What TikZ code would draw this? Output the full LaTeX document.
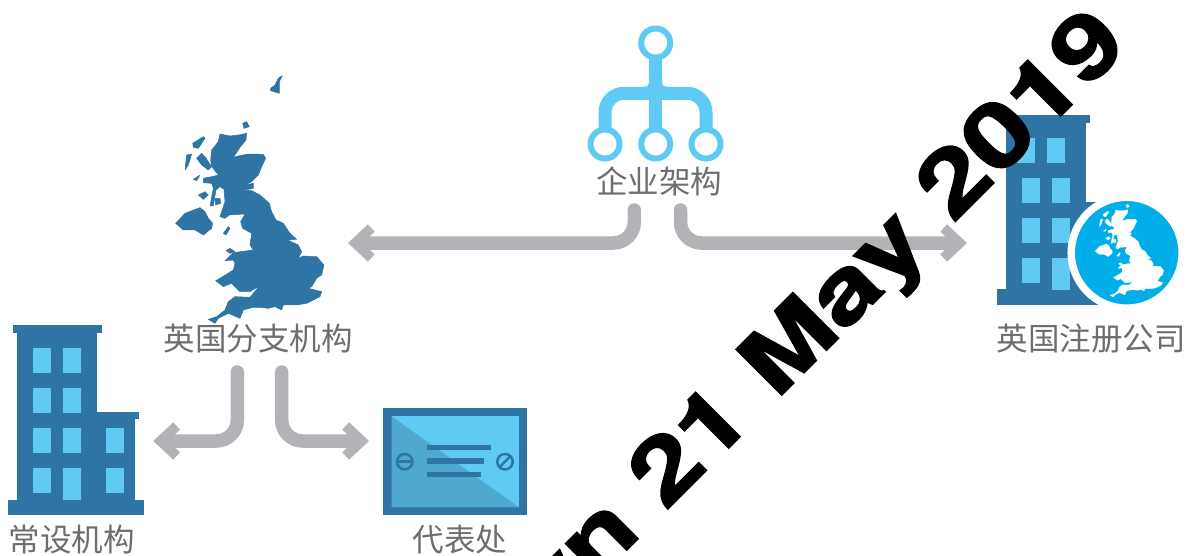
\documentclass[tikz,border=0pt]{standalone}
\usepackage{fontspec}
\newfontfamily\cjk{Noto Sans CJK SC}
\newfontfamily\stampfont[BoldFeatures={FakeBold=1.5}]{TeX Gyre Heros}
\usetikzlibrary{arrows, arrows.meta}
\definecolor{bldblue}{HTML}{2E75A6}
\definecolor{winblue}{HTML}{5FCBF5}
\definecolor{diagblue}{HTML}{4FA8CD}
\definecolor{discblue}{HTML}{00AEEA}
\definecolor{flowgray}{HTML}{B1B3B6}
\definecolor{labelgray}{HTML}{6D6E71}
\tikzset{
  caption/.style={inner sep=0pt, text=labelgray, font=\cjk\fontsize{31.5}{31.5}\selectfont},
  flow/.style={draw=flowgray, line width=13.5pt, line cap=round, rounded corners=21pt, -{Straight Barb[length=16pt,width=30pt,line width=10pt]}},
  orgdot/.style={circle, draw=winblue, fill=white, line width=6pt, inner sep=0pt, outer sep=0pt, minimum size=29pt},
  orgline/.style={draw=winblue, line width=13pt},
  screw/.style={circle, draw=bldblue, line width=2.5pt, inner sep=0pt, outer sep=0pt, minimum size=15.5pt},
}
\newcommand{\ukshape}[1]{
  \filldraw[#1, line join=round] (210,222) -- (240,228) -- (265,225) -- (290,220) -- (288,240) -- (270,262) -- (250,292) -- (265,288) -- (295,282) -- (340,283) -- (347,295) -- (335,320) -- (325,345) -- (305,365) -- (285,375) -- (310,370) -- (310,385) -- (285,390) -- (265,390) -- (305,392) -- (330,405) -- (358,430) -- (365,455) -- (378,480) -- (400,490) -- (420,520) -- (440,538) -- (412,540) -- (445,555) -- (455,575) -- (445,595) -- (460,588) -- (500,590) -- (522,615) -- (515,645) -- (500,655) -- (485,680) -- (475,685) -- (515,695) -- (510,710) -- (470,730) -- (440,735) -- (400,735) -- (395,750) -- (375,740) -- (355,745) -- (330,742) -- (310,742) -- (280,750) -- (270,775) -- (235,760) -- (205,775) -- (195,790) -- (175,778) -- (200,770) -- (225,750) -- (235,725) -- (255,710) -- (300,712) -- (328,678) -- (300,695) -- (270,695) -- (245,670) -- (220,680) -- (197,662) -- (210,655) -- (250,630) -- (255,610) -- (250,600) -- (225,602) -- (250,578) -- (295,572) -- (310,570) -- (300,555) -- (305,520) -- (278,505) -- (272,485) -- (285,462) -- (238,465) -- (225,475) -- (210,470) -- (225,425) -- (222,388) -- (210,380) -- (198,390) -- (190,438) -- (180,438) -- (190,385) -- (185,370) -- (160,368) -- (160,355) -- (185,350) -- (205,345) -- (185,320) -- (182,300) -- (185,270) -- (205,245) -- cycle;
  \filldraw[#1, line join=round] (77,490) -- (105,460) -- (150,443) -- (165,455) -- (175,475) -- (188,490) -- (185,505) -- (160,525) -- (135,510) -- (100,510) -- cycle;
  \filldraw[#1, line join=round] (220,520) -- (235,500) -- (240,505) -- (228,525) -- cycle;
  \filldraw[#1, line join=round] (228,572) -- (240,565) -- (255,575) -- (240,580) -- cycle;
  \filldraw[#1, line join=round] (128,250) -- (160,230) -- (165,235) -- (145,265) -- (130,262) -- cycle;
  \filldraw[#1, line join=round] (110,285) -- (125,282) -- (115,315) -- (105,330) -- cycle;
  \filldraw[#1, line join=round] (140,295) -- (155,280) -- (165,290) -- (185,320) -- (175,330) -- (155,315) -- cycle;
  \filldraw[#1, line join=round] (145,405) -- (165,395) -- (175,405) -- (160,418) -- cycle;
  \filldraw[#1, line join=round] (195,415) -- (210,415) -- (212,430) -- (197,435) -- cycle;
  \filldraw[#1, line join=round] (130,358) -- (150,345) -- (140,362) -- cycle;
  \filldraw[#1, line join=round] (278,190) -- (290,185) -- (298,200) -- (282,205) -- cycle;
}
\begin{document}
\begin{tikzpicture}[x=1pt, y=-1pt]
      \path[use as bounding box, clip] (0,0) rectangle (1187,555);

      \node[caption] (orglabel) at (659,181) {企业架构};
      \node[caption] (branchlabel) at (258,339) {英国分支机构};
      \node[caption] (estlabel) at (72,540) {常设机构};
      \node[caption] (officelabel) at (460,540) {代表处};
      \node[caption] (ltdlabel) at (1091,339) {英国注册公司};

      \node[orgdot] (orgtop) at (655.7,43) {};
      \node[orgdot] (orgleft) at (605,144) {};
      \node[orgdot] (orgmid) at (655.7,144) {};
      \node[orgdot] (orgright) at (706,144) {};
      \draw[orgline] (orgtop) -- (orgmid);
      \draw[orgline, rounded corners=19pt] (orgleft) -- (605,93.3) -- (706,93.3) -- (orgright);
      \fill[winblue] (649,78) .. controls (649,86.8) .. (640,86.8) -- (671,86.8) .. controls (662,86.8) .. (662,78) -- cycle;

      \begin{scope}[shift={(150,60)}, x=.3333pt, y=-.3333pt, line width=.5pt]
        \ukshape{bldblue}
        \filldraw[bldblue, line join=round] (362,85) -- (375,75) -- (385,55) -- (397,47) -- (388,65) -- (388,100) -- (378,97) -- (362,92) -- cycle;
      \end{scope}

      \fill[bldblue] (13.3,325) rectangle (101.7,333.3);
      \fill[bldblue] (17.3,333) rectangle (97.3,501);
      \fill[bldblue] (97,411.7) rectangle (139,419.3);
      \fill[bldblue] (97,419) rectangle (135,501);
      \fill[bldblue] (8,500) rectangle (144.3,515);
      \foreach \y in {348,388,428,468} {
        \fill[winblue] (33,\y) rectangle +(18,24.7);
      }
      \foreach \y in {348,388,428} {
        \fill[winblue] (63,\y) rectangle +(18,24.7);
      }
      \fill[winblue] (63,468) rectangle (81,500);
      \fill[winblue] (106,428) rectangle +(18,24.7);
      \fill[winblue] (106,468) rectangle +(18,24.7);

      \fill[bldblue] (383.3,408.3) rectangle (526.7,515);
      \fill[winblue] (391.7,416.3) rectangle (519,507.3);
      \fill[diagblue] (391.7,416.3) -- (519,507.3) -- (391.7,507.3) -- cycle;
      \fill[bldblue] (426.7,445) rectangle (491,450.3);
      \fill[bldblue] (426.7,458.3) rectangle (484,463.7);
      \fill[bldblue] (426.7,471.7) rectangle (481,477);
      \node[screw] (screwl) at (404.7,461.7) {};
      \node[screw] (screwr) at (505,461.7) {};
      \draw[bldblue, line width=2.5pt] (screwl.west) -- (screwl.east);
      \draw[bldblue, line width=2.5pt] (screwr.south west) -- (screwr.north east);

      \fill[bldblue] (1002,115) rectangle (1090,123.3);
      \fill[bldblue] (1006,123) rectangle (1086,290);
      \fill[bldblue] (1086,201.7) rectangle (1130,290);
      \fill[bldblue] (996.7,289.3) rectangle (1130,305);
      \fill[winblue] (1017,138) rectangle +(18,24.7);
      \fill[winblue] (1047,138) rectangle +(18,24.7);
      \foreach \y in {178,218,258} {
        \fill[winblue] (1022,\y) rectangle +(18,24.7);
      }
      \foreach \y in {178,218} {
        \fill[winblue] (1052,\y) rectangle +(18,24.7);
      }
      \fill[winblue] (1052,258) rectangle (1070,290);
      \node[circle, fill=discblue, draw=white, line width=7.5pt, inner sep=0pt, minimum size=111pt] (ukdisc) at (1126.7,252.7) {};
      \begin{scope}[shift={(1083.5,176)}, x=.1533pt, y=-.1533pt, line width=.3pt]
        \ukshape{white}
      \end{scope}

      \coordinate (orgflowl) at (634.3,210);
      \coordinate (orgflowr) at (680.5,210);
      \coordinate (branchend) at (348,243);
      \coordinate (ltdend) at (967,243);
      \coordinate (branchflowl) at (237.3,372);
      \coordinate (branchflowr) at (281.7,372);
      \coordinate (estend) at (153.3,441);
      \coordinate (officeend) at (369,441);
      \draw[flow] (orgflowl) |- (branchend);
      \draw[flow] (orgflowr) |- (ltdend);
      \draw[flow] (branchflowl) |- (estend);
      \draw[flow] (branchflowr) |- (officeend);

      \node[anchor=base east, inner sep=0pt, rotate=45, xscale=1.27, font=\stampfont\bfseries\fontsize{89}{89}\selectfont] (stamp) at (1131,46) {wn 21 May 2019};
    \end{tikzpicture}
\end{document}
